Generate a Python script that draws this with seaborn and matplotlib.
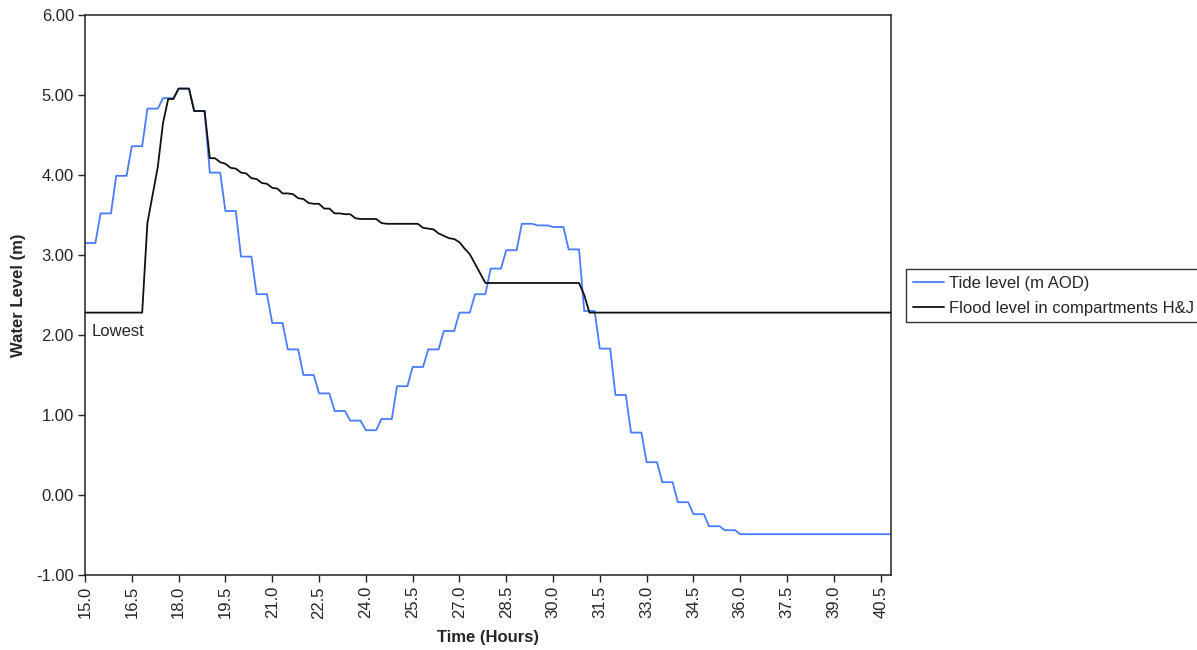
import numpy as np
import pandas as pd
import matplotlib
matplotlib.use("Agg")
import matplotlib.pyplot as plt
import seaborn as sns

# samples every 10 minutes from 15.0 h
n_samples = 156
time_hours = 15 + np.arange(n_samples) / 6

# tide level (m AOD), held for 30 min steps
tide_level = [
    3.15, 3.15, 3.15, 3.52, 3.52, 3.52, 3.99, 3.99, 3.99, 4.36, 4.36, 4.36,
    4.83, 4.83, 4.83, 4.96, 4.96, 4.96, 5.08, 5.08, 5.08, 4.80, 4.80, 4.80,
    4.03, 4.03, 4.03, 3.55, 3.55, 3.55, 2.98, 2.98, 2.98, 2.51, 2.51, 2.51,
    2.15, 2.15, 2.15, 1.82, 1.82, 1.82, 1.50, 1.50, 1.50, 1.27, 1.27, 1.27,
    1.05, 1.05, 1.05, 0.93, 0.93, 0.93, 0.81, 0.81, 0.81, 0.95, 0.95, 0.95,
    1.36, 1.36, 1.36, 1.60, 1.60, 1.60, 1.82, 1.82, 1.82, 2.05, 2.05, 2.05,
    2.28, 2.28, 2.28, 2.51, 2.51, 2.51, 2.83, 2.83, 2.83, 3.06, 3.06, 3.06,
    3.39, 3.39, 3.39, 3.37, 3.37, 3.37, 3.35, 3.35, 3.35, 3.07, 3.07, 3.07,
    2.30, 2.30, 2.30, 1.83, 1.83, 1.83, 1.25, 1.25, 1.25, 0.78, 0.78, 0.78,
    0.41, 0.41, 0.41, 0.16, 0.16, 0.16, -0.09, -0.09, -0.09, -0.24, -0.24, -0.24,
    -0.39, -0.39, -0.39, -0.44, -0.44, -0.44, -0.49, -0.49, -0.49, -0.49, -0.49, -0.49,
    -0.49, -0.49, -0.49, -0.49, -0.49, -0.49, -0.49, -0.49, -0.49, -0.49, -0.49, -0.49,
    -0.49, -0.49, -0.49, -0.49, -0.49, -0.49, -0.49, -0.49, -0.49, -0.49, -0.49, -0.49,
]

# flood level in compartments H&J (m)
flood_rise = [3.40, 3.75, 4.10, 4.65, 4.95, 4.95, 5.08, 5.08, 5.08, 4.80, 4.80, 4.80]
flood_decay = [
    4.21, 4.21, 4.16, 4.14, 4.09, 4.08, 4.03, 4.02, 3.96, 3.95,
    3.90, 3.89, 3.84, 3.83, 3.77, 3.77, 3.76, 3.71, 3.70, 3.65,
    3.64, 3.64, 3.58, 3.58, 3.52, 3.52, 3.51, 3.51, 3.46, 3.45,
    3.45, 3.45, 3.45, 3.40, 3.39, 3.39, 3.39, 3.39, 3.39, 3.39,
    3.39, 3.34, 3.33, 3.32, 3.27, 3.24, 3.21, 3.20, 3.16, 3.08,
    3.01, 2.89, 2.77, 2.65,
]
flood_level = [2.28] * 12 + flood_rise + flood_decay + [2.65] * 18 + [2.50] + [2.28] * 59

x_ticks = np.arange(15.0, 41.0, 1.5)
y_ticks = np.arange(-1.0, 6.5, 1.0)

df = pd.DataFrame({"Time": time_hours, "Tide": tide_level, "Flood": flood_level})

sns.set_style("ticks")
plt.rcParams["font.family"] = ["Liberation Sans", "DejaVu Sans"]

fig = plt.figure(figsize=(11.97, 6.5), dpi=100)
ax = fig.add_axes([0.0710, 0.1154, 0.6734, 0.8615])

sns.lineplot(data=df, x="Time", y="Tide", color="#4a7cff", linewidth=1.3,
             label="Tide level (m AOD)", ax=ax)
sns.lineplot(data=df, x="Time", y="Flood", color="#111111", linewidth=1.3,
             label="Flood level in compartments H&J", ax=ax)

ax.set_xlim(time_hours[0], time_hours[-1])
ax.set_ylim(-1.0, 6.0)
ax.set_xticks(x_ticks)
ax.set_xticklabels([f"{t:.1f}" for t in x_ticks], rotation=90, fontsize=12)
ax.set_yticks(y_ticks)
ax.set_yticklabels([f"{v:.2f}" for v in y_ticks], fontsize=12)
ax.tick_params(direction="out", length=5, width=1, color="#222222", pad=3)
for s in ax.spines.values():
    s.set_visible(True)
    s.set_color("#222222")
    s.set_linewidth(1.1)

ax.set_xlabel("Time (Hours)", fontsize=12, fontweight="bold", labelpad=8)
ax.set_ylabel("Water Level (m)", fontsize=12, fontweight="bold", labelpad=7)

ax.text(15.2, 2.04, "Lowest", fontsize=12, va="center", ha="left")

leg = ax.legend(loc="upper left", bbox_to_anchor=(0.757, 0.586),
                bbox_transform=fig.transFigure, fontsize=12, frameon=True,
                fancybox=False, framealpha=1, edgecolor="#333333",
                handlelength=1.9, handletextpad=0.25, labelspacing=0.6,
                borderpad=0.4, borderaxespad=0)
leg.get_frame().set_linewidth(1.0)

fig.savefig("out.png", dpi=100)
